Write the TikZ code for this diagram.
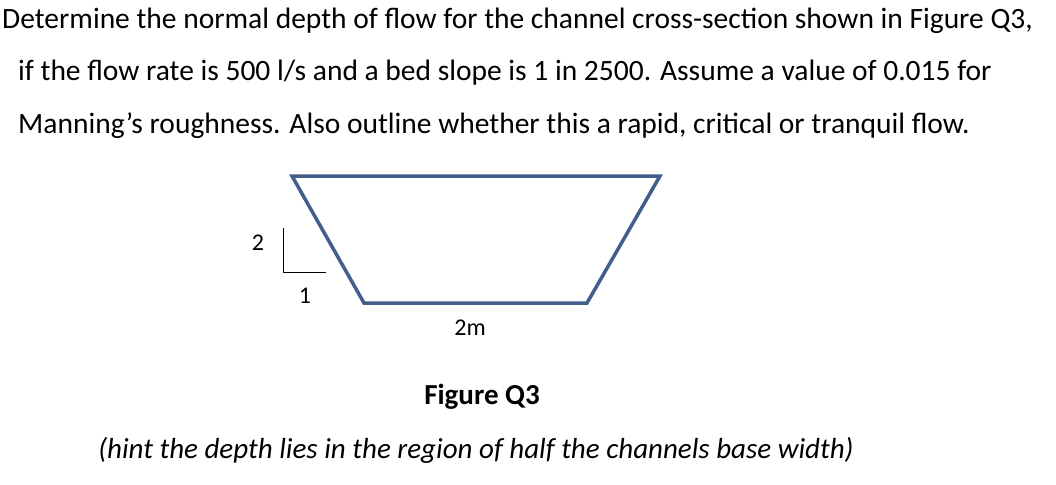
\documentclass[tikz,border=0pt]{standalone}
\usepackage{fontspec}
\setmainfont{Carlito}
\definecolor{chan}{RGB}{68,94,140}
\begin{document}
\begin{tikzpicture}[x=1pt,y=-1pt,
  txt/.style={anchor=base west,inner sep=0pt,font=\fontsize{29.5}{34}\selectfont},
  lbl/.style={inner sep=0pt,font=\fontsize{24}{28}\selectfont},
  big/.style={inner sep=0pt,font=\fontsize{29}{34}\selectfont}]
\useasboundingbox (0,0) rectangle (1056,484);
\node[txt] (l1) at (2,29) {Determine the normal depth of flow for the channel cross-section shown in Figure Q3,};
\node[txt] (l2) at (18,81) {if the flow rate is 500 l/s and a bed slope is 1 in 2500. Assume a value of 0.015 for};
\node[txt] (l3) at (18,133) {Manning’s roughness. Also outline whether this a rapid, critical or tranquil flow.};
\coordinate (tl) at (292,176);
\coordinate (tr) at (660,176);
\coordinate (br) at (587,303);
\coordinate (bl) at (364,303);
\draw[chan,line width=3.5pt,line join=miter] (tl) -- (tr) -- (br) -- (bl) -- cycle;
\coordinate (s1) at (283,228);
\coordinate (s2) at (283,272);
\coordinate (s3) at (326,272);
\draw[line width=0.8pt] (s1) -- (s2) -- (s3);
\node[lbl] (two) at (258,243) {2};
\node[lbl] (one) at (305,296) {1};
\node[lbl] (w) at (470,328) {2m};
\node[big,font=\fontsize{29}{34}\selectfont\bfseries] (fig) at (482,397) {Figure Q3};
\node[big,font=\fontsize{29}{34}\selectfont\itshape] (hint) at (476,450) {(hint the depth lies in the region of half the channels base width)};
\end{tikzpicture}
\end{document}
